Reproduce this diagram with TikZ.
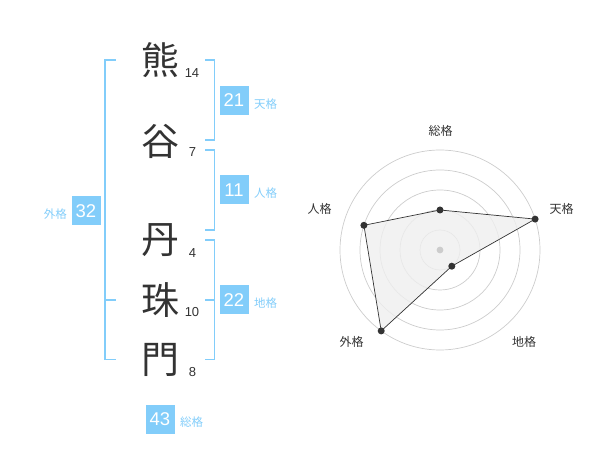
\documentclass[tikz,border=0pt]{standalone}
\usepackage{fontspec}
\setmainfont{Liberation Sans}
\newfontfamily\jp{Noto Sans CJK JP}
\definecolor{kblue}{HTML}{82CDFA}
\definecolor{ink}{HTML}{333333}
\definecolor{ring}{HTML}{CCCCCC}
\definecolor{area}{HTML}{EFEFEF}
\begin{document}
\begin{tikzpicture}[x=1pt,y=-1pt,
  kanji/.style={font=\jp\fontsize{38}{38}\selectfont, text=ink, inner sep=0pt},
  strokes/.style={font=\fontsize{13}{13}\selectfont, text=ink, inner sep=0pt},
  numbox/.style={fill=kblue, text=white, minimum width=29pt, minimum height=29pt, inner sep=0pt, font=\fontsize{18.5}{18.5}\selectfont},
  kaku/.style={font=\jp\fontsize{11.5}{11.5}\selectfont, text=kblue, inner sep=0pt},
  bracket/.style={draw=kblue, line width=1.6pt},
  axislabel/.style={font=\jp\fontsize{12}{12}\selectfont, text=ink, inner sep=0pt},
  ringline/.style={draw=ring, line width=0.7pt},
  dot/.style={circle, fill=ink, inner sep=0pt, minimum size=7pt}
]
\useasboundingbox (0,0) rectangle (600,470);

% characters
\node[kanji] (c1) at (160,60) {熊};
\node[kanji] (c2) at (160,141) {谷};
\node[kanji] (c3) at (160,240) {丹};
\node[kanji] (c4) at (160,300) {珠};
\node[kanji] (c5) at (160,360) {門};
% stroke counts
\node[strokes] (s1) at (192,73.5) {14};
\node[strokes] (s2) at (192.5,152.5) {7};
\node[strokes] (s3) at (192.5,253.5) {4};
\node[strokes] (s4) at (192,312.5) {10};
\node[strokes] (s5) at (192.5,372.5) {8};

% brackets
\draw[bracket] (115.5,60) -- (105,60) -- (105,359.5) -- (115.5,359.5);
\draw[bracket] (105,300) -- (115.5,300);
\draw[bracket] (205,60) -- (214.5,60) -- (214.5,140) -- (205,140);
\draw[bracket] (205,150) -- (214.5,150) -- (214.5,230) -- (205,230);
\draw[bracket] (205,240) -- (214.5,240) -- (214.5,359.5) -- (205,359.5);
\draw[bracket] (205,300) -- (214.5,300);

% boxes
\node[numbox] (ten) at (234,100.5) {21};
\node[kaku, anchor=west] (tenl) at (254,104) {天格};
\node[numbox] (jin) at (234,190) {11};
\node[kaku, anchor=west] (jinl) at (254,193) {人格};
\node[numbox] (chi) at (234,300) {22};
\node[kaku, anchor=west] (chil) at (254,303) {地格};
\node[numbox] (gai) at (86,211) {32};
\node[kaku, anchor=east] (gail) at (67,214) {外格};
\node[numbox] (sou) at (160,419) {43};
\node[kaku, anchor=west] (soul) at (180,422) {総格};

% radar
\coordinate (o) at (440,250);
\foreach \r in {20,40,60,80,100} \draw[ringline] (o) circle[radius=\r];
\coordinate (p1) at (440,210);
\coordinate (p2) at (535.1,219.1);
\coordinate (p3) at (451.8,266.2);
\coordinate (p4) at (381.2,330.9);
\coordinate (p5) at (363.9,225.3);
\draw[fill=area, fill opacity=0.8, draw=ink, line width=0.7pt] (p1) -- (p2) -- (p3) -- (p4) -- (p5) -- cycle;
\fill[ring] (o) circle[radius=3.4];
\foreach \p in {p1,p2,p3,p4,p5} \node[dot] at (\p) {};
\node[axislabel] (a1) at (440.5,130.5) {総格};
\node[axislabel] (a2) at (561.5,208.5) {天格};
\node[axislabel] (a3) at (524,342) {地格};
\node[axislabel] (a4) at (351.5,342) {外格};
\node[axislabel] (a5) at (319.5,208.5) {人格};
\end{tikzpicture}
\end{document}
